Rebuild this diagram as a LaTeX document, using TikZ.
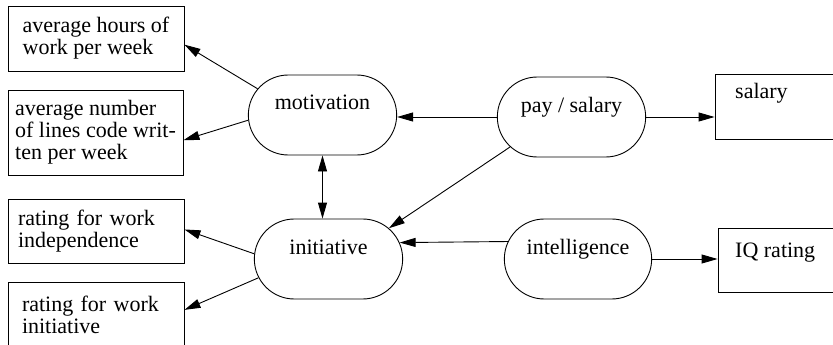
\documentclass[tikz,border=0pt]{standalone}
\usepackage{fontspec}
\setmainfont{Liberation Serif}
\usetikzlibrary{shapes.misc,arrows.meta}
\begin{document}
\begin{tikzpicture}[x=1pt,y=-1pt,
  every node/.style={font=\fontsize{22}{22}\selectfont},
  box/.style={draw, rectangle, line width=0.9pt, inner sep=0pt},
  oval/.style={draw, rounded rectangle, line width=0.9pt, minimum width=155pt,
    minimum height=80pt, text height=12pt, text depth=22pt},
  link/.style={line width=0.9pt, -{Triangle[length=16pt,width=9pt]}},
  twoway/.style={line width=0.9pt, {Triangle[length=16pt,width=9pt]}-{Triangle[length=16pt,width=9pt]}}]
\clip (0,0) rectangle (833,345);

% measured quantities (left)
\node[box, minimum width=176pt, minimum height=65pt, align=left] (hours) at (96,38.5)
  {average hours of\\work per week};
\node[box, minimum width=175pt, minimum height=85pt, align=left] (lines) at (95.5,132.5)
  {average number\\of lines code writ-\\ten per week};
\node[box, minimum width=176pt, minimum height=64pt, align=left, text width=156pt] (indep) at (96,231)
  {rating for work\\independence};
\node[box, minimum width=176pt, minimum height=65pt, align=left, text width=148pt] (initr) at (96,314.5)
  {rating for work\\initiative};

% measured quantities (right)
\node[box, minimum width=176pt, minimum height=65pt] (sal) at (803,106.5) {};
\node[anchor=base west, inner sep=0pt] (salT) at (735,99) {salary};
\node[box, minimum width=176pt, minimum height=64pt] (iq) at (806,260) {};
\node[anchor=base west, inner sep=0pt] (iqT) at (735,257) {IQ rating};

% latent variables
\node[oval] (mot) at (322.5,115) {motivation};
\node[oval] (pay) at (571.5,117) {pay / salary};
\node[oval] (init) at (328.5,259) {initiative};
\node[oval, minimum width=154pt] (intel) at (578,259) {intelligence};

% connectors
\draw[link] (mot.158) -- (hours.-4);
\draw[link] (mot.184) -- (lines.-5);
\draw[link] (pay.west) -- (pay.west -| mot.east);
\draw[twoway] (mot.south) -- (mot.south |- init.north);
\draw[link] (pay.206) -- (init.27);
\draw[link] (intel.166) -- (init.13);
\draw[link] (init.176) -- (indep.1);
\draw[link] (init.195) -- (initr.3);
\draw[link] (pay.east) -- (pay.east -| sal.west);
\draw[link] (intel.east) -- (intel.east -| iq.west);
\end{tikzpicture}
\end{document}
